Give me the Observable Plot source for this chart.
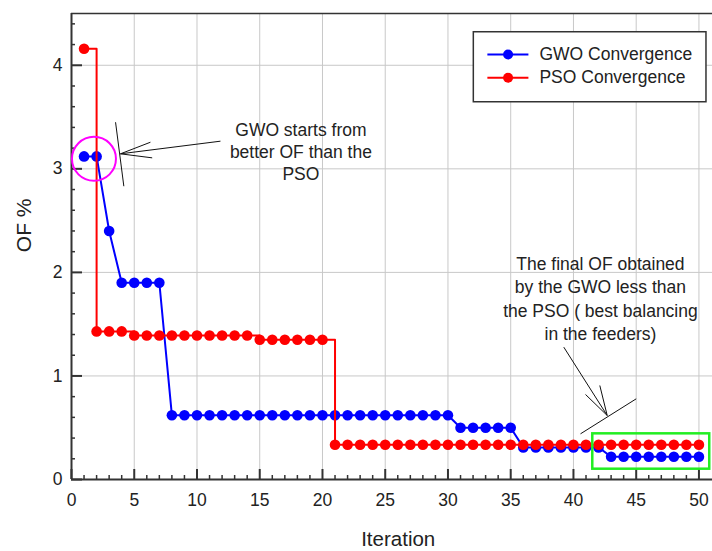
<!DOCTYPE html>
<html>
<head>
<meta charset="utf-8">
<script src="https://cdn.jsdelivr.net/npm/d3@7"></script>
<script src="https://cdn.jsdelivr.net/npm/@observablehq/plot@0.6"></script>
<style>
  html, body { margin: 0; padding: 0; background: #fff; }
  #chart { width: 712px; height: 551px; }
</style>
</head>
<body>
<div id="chart"></div>
<script>
// ---- data ----
const iterations = [1,2,3,4,5,6,7,8,9,10,11,12,13,14,15,16,17,18,19,20,21,22,23,24,25,26,27,28,29,30,31,32,33,34,35,36,37,38,39,40,41,42,43,44,45,46,47,48,49,50];
const gwoOF = [3.12,3.12,2.40,1.90,1.90,1.90,1.90,
  0.62,0.62,0.62,0.62,0.62,0.62,0.62,0.62,0.62,0.62,0.62,0.62,0.62,0.62,0.62,0.62,0.62,0.62,0.62,0.62,0.62,0.62,0.62,
  0.50,0.50,0.50,0.50,0.50,
  0.31,0.31,0.31,0.31,0.31,0.31,0.31,
  0.22,0.22,0.22,0.22,0.22,0.22,0.22,0.22];
const psoOF = [4.16,1.43,1.43,1.43,
  1.39,1.39,1.39,1.39,1.39,1.39,1.39,1.39,1.39,1.39,
  1.35,1.35,1.35,1.35,1.35,1.35,
  0.335,0.335,0.335,0.335,0.335,0.335,0.335,0.335,0.335,0.335,0.335,0.335,0.335,0.335,0.335,
  0.335,0.335,0.335,0.335,0.335,0.335,0.335,0.335,0.335,0.335,0.335,0.335,0.335,0.335,0.335];
const seriesNames = ["GWO Convergence", "PSO Convergence"];
const xTickLabels = [0,5,10,15,20,25,30,35,40,45,50];
const yTickLabels = [0,1,2,3,4];
const note1 = "GWO starts from\nbetter OF than the\nPSO";
const note2 = "The final OF obtained\nby the GWO less than\nthe PSO ( best balancing\nin the feeders)";

// ---- layout ----
const W = 712, H = 551, mL = 71, mR = 0, mT = 13, mB = 72;
const xMax = 51.08, yMax = 4.5;
const xPx = (W - mL - mR) / xMax;   // px per x unit
const yPx = (H - mT - mB) / yMax;   // px per y unit
const xMinor = d3.range(1, 51).filter(d => d % 5 !== 0);
const yMinor = d3.range(0.2, 4.5, 0.2).filter(d => Math.abs(d - Math.round(d)) > 1e-6);

const gwo = iterations.map((it, i) => ({iter: it, of: gwoOF[i]}));
const pso = iterations.map((it, i) => ({iter: it, of: psoOF[i]}));

const BLUE = "#0000ff", RED = "#ff0000", AX = "#333333";

// annotation geometry (data coordinates)
const arrow1 = [
  {x1: 11.87, y1: 3.267, x2: 3.90, y2: 3.145},
  {x1: 3.90, y1: 3.145, x2: 6.29, y2: 3.257},
  {x1: 3.90, y1: 3.145, x2: 6.43, y2: 3.106},
  {x1: 3.51, y1: 3.450, x2: 4.17, y2: 2.832}
];
const arrow2 = [
  {x1: 39.23, y1: 1.278, x2: 42.69, y2: 0.618},
  {x1: 42.69, y1: 0.618, x2: 40.96, y2: 0.821},
  {x1: 42.69, y1: 0.618, x2: 42.10, y2: 0.908},
  {x1: 40.56, y1: 0.441, x2: 45.00, y2: 0.779}
];
const legendRows = [
  {name: seriesNames[0], color: BLUE, y: 4.104},
  {name: seriesNames[1], color: RED, y: 3.879}
];

const chart = Plot.plot({
  width: W, height: H,
  marginLeft: mL, marginRight: mR, marginTop: mT, marginBottom: mB,
  x: {domain: [0, xMax]},
  y: {domain: [0, yMax]},
  style: {fontFamily: "'Liberation Sans', Arial, sans-serif", fontSize: "17.5px", color: "#222", background: "#fff", overflow: "visible"},
  marks: [
    Plot.gridX(xTickLabels.filter(d => d > 0), {stroke: "#c8c8c8", strokeOpacity: 1, strokeWidth: 1}),
    Plot.gridY(yTickLabels.filter(d => d > 0), {stroke: "#c8c8c8", strokeOpacity: 1, strokeWidth: 1}),
    // axes lines
    Plot.ruleY([yMax], {stroke: AX, strokeWidth: 1.5}),
    Plot.ruleX([0], {stroke: AX, strokeWidth: 2}),
    Plot.ruleY([0], {stroke: AX, strokeWidth: 2}),
    // inward ticks
    Plot.ruleX(xTickLabels, {x: d => d, y1: 0, y2: 10 / yPx, stroke: AX, strokeWidth: 2}),
    Plot.ruleX(xMinor, {x: d => d, y1: 0, y2: 4 / yPx, stroke: AX, strokeWidth: 1.5}),
    Plot.ruleY(yTickLabels, {y: d => d, x1: 0, x2: 11 / xPx, stroke: AX, strokeWidth: 2}),
    Plot.ruleY(yMinor, {y: d => d, x1: 0, x2: 4 / xPx, stroke: AX, strokeWidth: 1.5}),
    Plot.axisX(xTickLabels, {tickSize: 0, tickPadding: 14, label: null, fontSize: 17.5, tickFormat: d => String(d)}),
    Plot.axisY(yTickLabels, {tickSize: 0, tickPadding: 9, label: null, fontSize: 17.5, tickFormat: d => String(d)}),
    // axis titles
    Plot.text(["Iteration"], {frameAnchor: "bottom", dx: 6.2, dy: 60.4, lineAnchor: "middle", fontSize: 20.5, fill: "#222"}),
    Plot.text(["OF %"], {frameAnchor: "left", dx: -47.5, dy: 5.7, rotate: -90, lineAnchor: "middle", fontSize: 21, fill: "#222"}),
    // series
    Plot.line(gwo, {x: "iter", y: "of", stroke: BLUE, strokeWidth: 2}),
    Plot.dot(gwo, {x: "iter", y: "of", r: 5.3, fill: BLUE, stroke: "none"}),
    Plot.line(pso, {x: "iter", y: "of", stroke: RED, strokeWidth: 2, curve: "step-after"}),
    Plot.dot(pso, {x: "iter", y: "of", r: 5.3, fill: RED, stroke: "none"}),
    // annotations
    Plot.dot([{x: 1.79, y: 3.097}], {x: "x", y: "y", r: 22, stroke: "#ff00ff", strokeWidth: 2, fill: "none"}),
    Plot.link(arrow1, {x1: "x1", y1: "y1", x2: "x2", y2: "y2", stroke: "#111", strokeWidth: 1}),
    Plot.text([note1], {x: 18.28, y: 3.174, text: d => d, lineHeight: 1.257, lineAnchor: "middle", fontSize: 17.5, fill: "#222"}),
    Plot.link(arrow2, {x1: "x1", y1: "y1", x2: "x2", y2: "y2", stroke: "#111", strokeWidth: 1}),
    Plot.text([note2], {x: 42.15, y: 1.757, text: d => d, lineHeight: 1.337, lineAnchor: "middle", fontSize: 17.5, fill: "#222"}),
    Plot.rect([{x1: 41.54, x2: 50.86, y1: 0.0995, y2: 0.441}], {x1: "x1", x2: "x2", y1: "y1", y2: "y2", fill: "none", stroke: "#22ee22", strokeWidth: 2.5}),
    // legend
    Plot.rect([{x1: 32.06, x2: 50.6, y1: 3.643, y2: 4.319}], {x1: "x1", x2: "x2", y1: "y1", y2: "y2", fill: "#fff", stroke: AX, strokeWidth: 1.5}),
    Plot.link(legendRows, {x1: 33.14, x2: 36.41, y1: "y", y2: "y", stroke: "color", strokeWidth: 2}),
    Plot.dot(legendRows, {x: 34.79, y: "y", r: 5, fill: "color", stroke: "none"}),
    Plot.text(legendRows, {x: 37.29, y: "y", text: "name", textAnchor: "start", lineAnchor: "middle", fontSize: 17.5, fill: "#222"})
  ]
});
document.getElementById("chart").appendChild(chart);
</script>
</body>
</html>
